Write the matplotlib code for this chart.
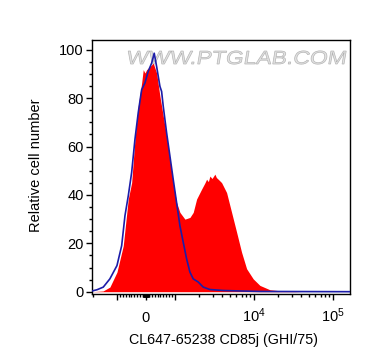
import numpy as np
import matplotlib
matplotlib.use("Agg")
import matplotlib.pyplot as plt
from matplotlib.textpath import TextPath
from matplotlib.patches import PathPatch
from matplotlib.font_manager import FontProperties
from matplotlib.transforms import Affine2D

plt.rcParams["font.family"] = ["Liberation Sans", "DejaVu Sans"]
plt.rcParams["mathtext.fontset"] = "custom"
plt.rcParams["mathtext.rm"] = "Liberation Sans"
plt.rcParams["mathtext.default"] = "rm"

# stained sample (red fill)
stain_x = [-2070, -1500, -1230, -1000, -783, -610, -493, -379, -266, -148, -93, -34,
           24, 138, 252, 369, 483, 597, 714, 828, 941, 1050, 1157, 1339, 1549, 1706,
           1883, 2178, 2400, 2519, 2650, 2773, 2950, 3209, 3350, 3532, 3899, 4510,
           5220, 6040, 6985, 8085, 9800, 11910, 15950, 24680, 40000, 166700]
stain_y = [0, 0.3, 1.9, 8.1, 19, 38.3, 45.1, 63, 76.7, 86.3, 91.8, 90.4,
           91.8, 93.1, 94.5, 90.4, 80.8, 72.6, 64.3, 54.7, 45.1, 36.9, 32.8, 30, 30.7, 32.8,
           38.3, 42.4, 45, 46.5, 45.5, 47.8, 46.8, 48.6, 47.2, 46.5, 45.1, 41,
           32.8, 24.6, 16.3, 9.5, 5.3, 2.6, 0.8, 0.2, 0, 0]

# isotype control (blue line)
ctrl_x = [-2070, -1791, -1490, -1230, -1000, -838, -724, -610, -493, -379, -266, -148,
          -34, 79, 197, 286, 369, 483, 541, 597, 714, 828, 941, 1050, 1157, 1274,
          1406, 1549, 1706, 1972, 2281, 2773, 4085, 6650, 12000, 166700]
ctrl_y = [0.3, 0.8, 1.9, 5.3, 10.8, 19, 31.4, 39.6, 49.3, 63, 74, 83.5,
          86.3, 91.1, 94.5, 98.6, 93.1, 84.9, 82.8, 76.7, 65.7, 56.1, 46.5, 36.9, 27.3, 20.5,
          13.6, 8.1, 5.3, 4, 1.9, 0.9, 0.5, 0.3, 0.1, 0]

x_major = [-1000, 0, 1000, 1e4, 1e5]
x_major_labels = ["", "0", "", "$10^4$", "$10^5$"]
y_major = [0, 20, 40, 60, 80, 100]
xlabel = "CL647-65238 CD85j (GHI/75)"
ylabel = "Relative cell number"
watermark = "WWW.PTGLAB.COM"

fig = plt.figure(figsize=(3.74, 3.64), dpi=100)
ax = fig.add_axes([0.246, 0.192, 0.691, 0.699])
ax.set_xscale("symlog", linthresh=1000, linscale=0.33)

ax.fill_between(stain_x, stain_y, color="#ff0000", lw=0, zorder=2)
ax.plot(ctrl_x, ctrl_y, color="#1c1ca8", lw=1.2, zorder=3)

ax.set_xlim(-2070, 166700)
ax.set_ylim(-1, 104.2)

# biexponential-style ticks
x_minor = np.r_[-2000, np.arange(-900, -99, 100), np.arange(-90, 91, 10),
                np.arange(100, 901, 100), np.arange(2000, 9001, 1000),
                np.arange(2e4, 9.1e4, 1e4)]
ax.set_xticks(x_major, x_major_labels)
ax.set_xticks(x_minor, minor=True)
ax.set_yticks(y_major)
ax.set_yticks(np.arange(0, 101, 5), minor=True)

ax.tick_params(axis="both", which="major", direction="out", length=4.5, width=1,
               labelsize=10.5, color="black")
ax.tick_params(axis="both", which="minor", direction="out", length=2.5, width=1)
ax.tick_params(axis="x", which="major", pad=15.7)
ax.tick_params(axis="y", which="major", pad=1.5)
for t in ax.xaxis.get_major_ticks():
    t.label1.set_va("baseline")

for s in ax.spines.values():
    s.set_linewidth(1)

ax.set_xlabel(xlabel, fontsize=10.3, va="top")
ax.xaxis.set_label_coords(0.51, -0.153)
ax.set_ylabel(ylabel, fontsize=10.5)
ax.yaxis.set_label_coords(-0.19, 0.507)

# watermark, stretched to the width seen in the picture, behind the data
tp = TextPath((0, 0), watermark, size=1, prop=FontProperties(family="Liberation Sans"))
ext = tp.get_extents()
tr = (Affine2D().translate(-ext.x0, 0).skew_deg(8, 0)
      .scale(218 / ext.width, 13.5 / 0.716).translate(126, 364 - 64)
      + Affine2D().scale(1 / 374, 1 / 364) + fig.transFigure)
ax.add_patch(PathPatch(tp, transform=tr, facecolor="#e2e2e2",
                       edgecolor="#b4b4b4", lw=0.5, zorder=1))

fig.savefig("out.png", dpi=100)
